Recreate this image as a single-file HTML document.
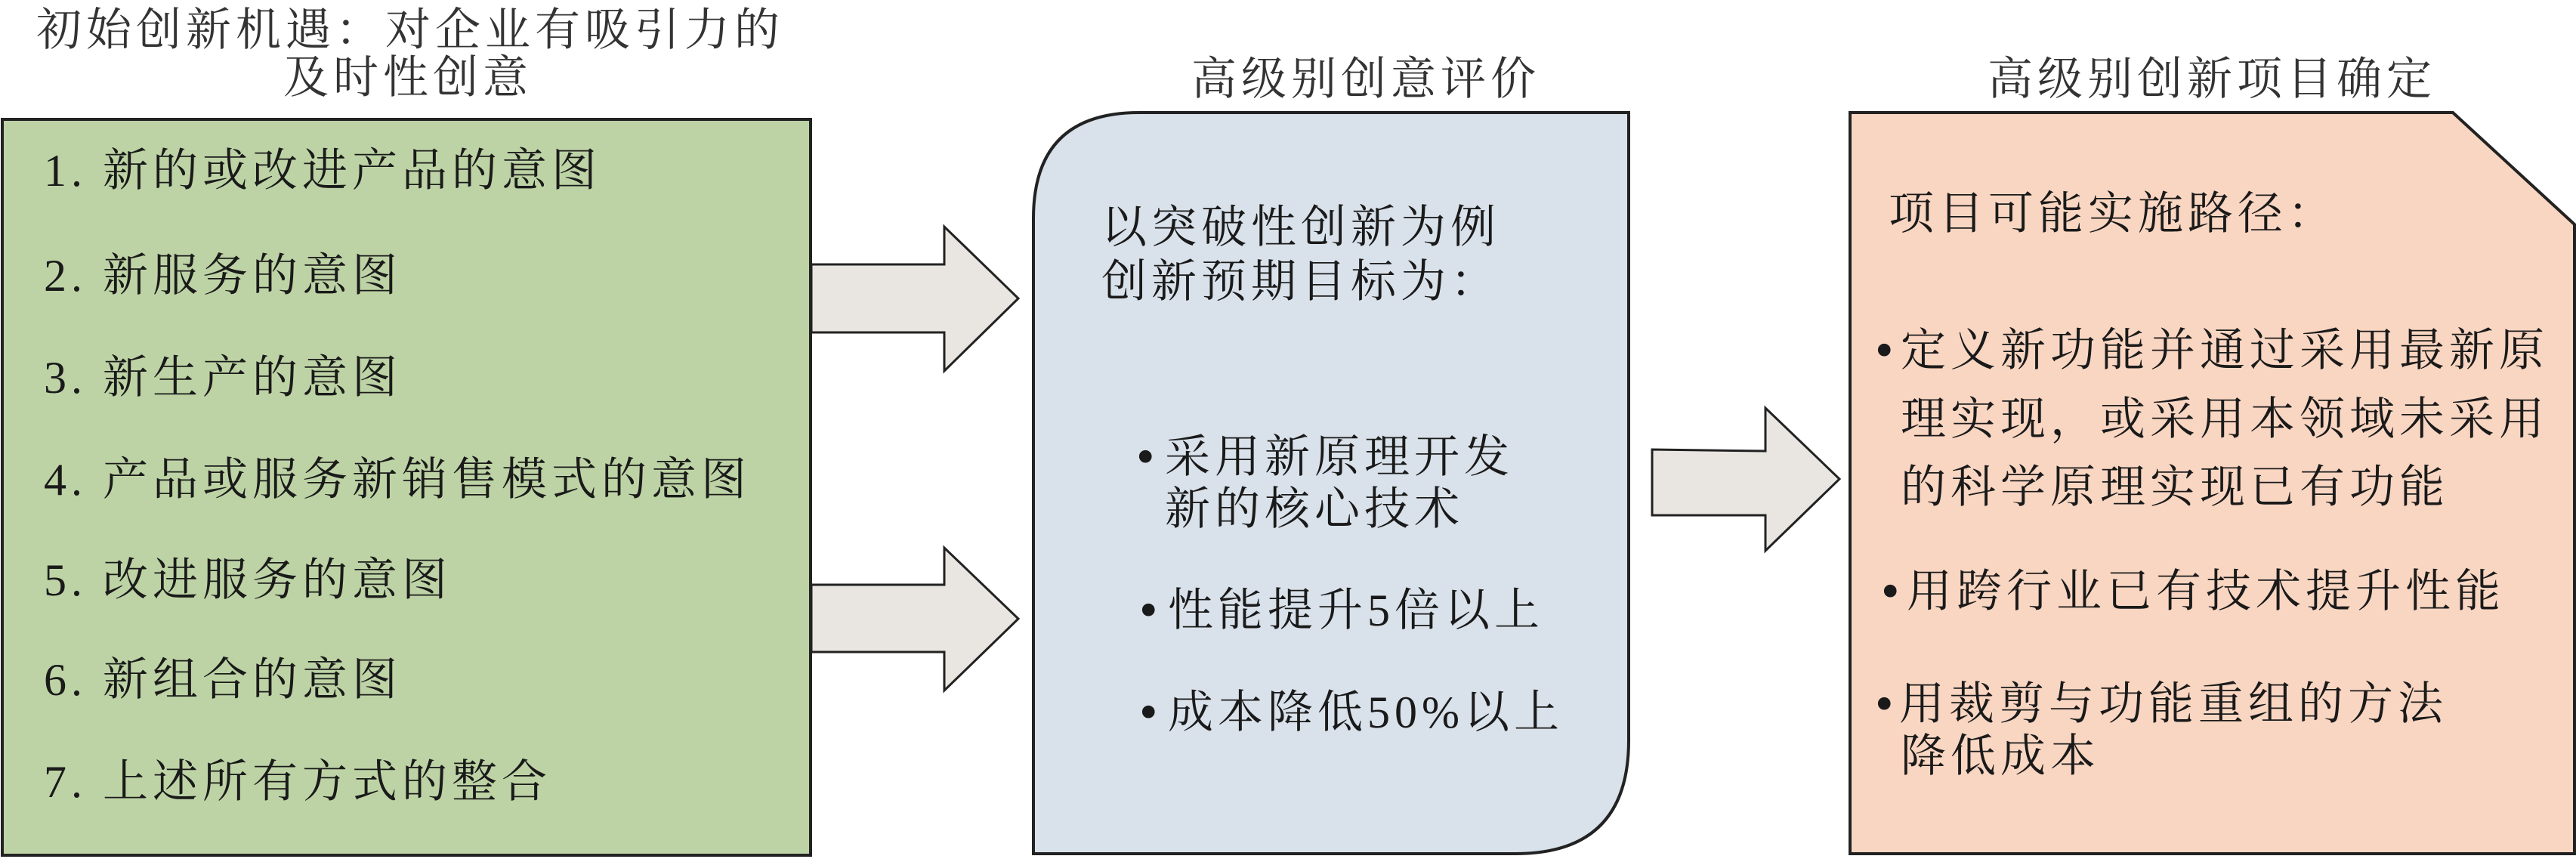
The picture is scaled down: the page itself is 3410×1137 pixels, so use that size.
<!DOCTYPE html>
<html><head><meta charset="utf-8"><style>
html,body{margin:0;padding:0;background:#fff;}
svg{display:block;}
text{font-family:"Liberation Serif","Noto Serif CJK SC","Noto Sans CJK SC",serif;fill:#1a1a1a;font-size:60px;letter-spacing:6px;dominant-baseline:central;}
.t{fill:#333;}
.b{font-size:70px;letter-spacing:0;}
</style></head><body>
<svg width="3410" height="1137" viewBox="0 0 3410 1137" xmlns="http://www.w3.org/2000/svg">
<!-- titles -->
<text class="t" x="543" y="40" text-anchor="middle" letter-spacing="6.5">初始创新机遇：对企业有吸引力的</text>
<text class="t" x="540" y="103" text-anchor="middle">及时性创意</text>
<text class="t" x="1808" y="105" text-anchor="middle">高级别创意评价</text>
<text class="t" x="2928" y="105" text-anchor="middle">高级别创新项目确定</text>

<!-- green box -->
<rect x="3" y="158" width="1070" height="974" fill="#bdd3a5" stroke="#222" stroke-width="4"/>
<text x="58" y="226">1. 新的或改进产品的意图</text>
<text x="58" y="365">2. 新服务的意图</text>
<text x="58" y="500">3. 新生产的意图</text>
<text x="58" y="635">4. 产品或服务新销售模式的意图</text>
<text x="58" y="768">5. 改进服务的意图</text>
<text x="58" y="900">6. 新组合的意图</text>
<text x="58" y="1035">7. 上述所有方式的整合</text>

<!-- arrows -->
<polygon points="1074,350 1250,350 1250,300 1348,395 1250,491 1250,440 1074,440" fill="#e9e5e1" stroke="#222" stroke-width="3"/>
<polygon points="1074,774 1250,774 1250,725 1348,819 1250,914 1250,863 1074,863" fill="#e9e5e1" stroke="#222" stroke-width="3"/>
<polygon points="2187,595 2337,597 2337,540 2435,634 2337,729 2337,682 2187,682" fill="#e9e5e1" stroke="#222" stroke-width="3"/>

<!-- blue box -->
<path d="M1368,1130 L1368,289 Q1368,149 1508,149 L2156,149 L2156,980 Q2156,1130 2006,1130 Z" fill="#d9e1ea" stroke="#222" stroke-width="4"/>
<text x="1458" y="301">以突破性创新为例</text>
<text x="1458" y="373">创新预期目标为：</text>
<text class="b" x="1504" y="605">•</text><text x="1542" y="605">采用新原理开发</text>
<text x="1542" y="674">新的核心技术</text>
<text class="b" x="1508" y="808">•</text><text x="1546" y="808">性能提升5倍以上</text>
<text class="b" x="1508" y="943">•</text><text x="1546" y="943">成本降低50%以上</text>

<!-- orange box -->
<path d="M2449,149 L3247,149 L3408,297 L3408,1130 L2449,1130 Z" fill="#f9d6c2" stroke="#222" stroke-width="4"/>
<text x="2500" y="283">项目可能实施路径：</text>
<text class="b" x="2482" y="464">•</text><text x="2516" y="464">定义新功能并通过采用最新原</text>
<text x="2516" y="555">理实现，或采用本领域未采用</text>
<text x="2516" y="645">的科学原理实现已有功能</text>
<text class="b" x="2490" y="783">•</text><text x="2524" y="783">用跨行业已有技术提升性能</text>
<text class="b" x="2482" y="932">•</text><text x="2514" y="932">用裁剪与功能重组的方法</text>
<text x="2516" y="1001">降低成本</text>
</svg>
</body></html>
